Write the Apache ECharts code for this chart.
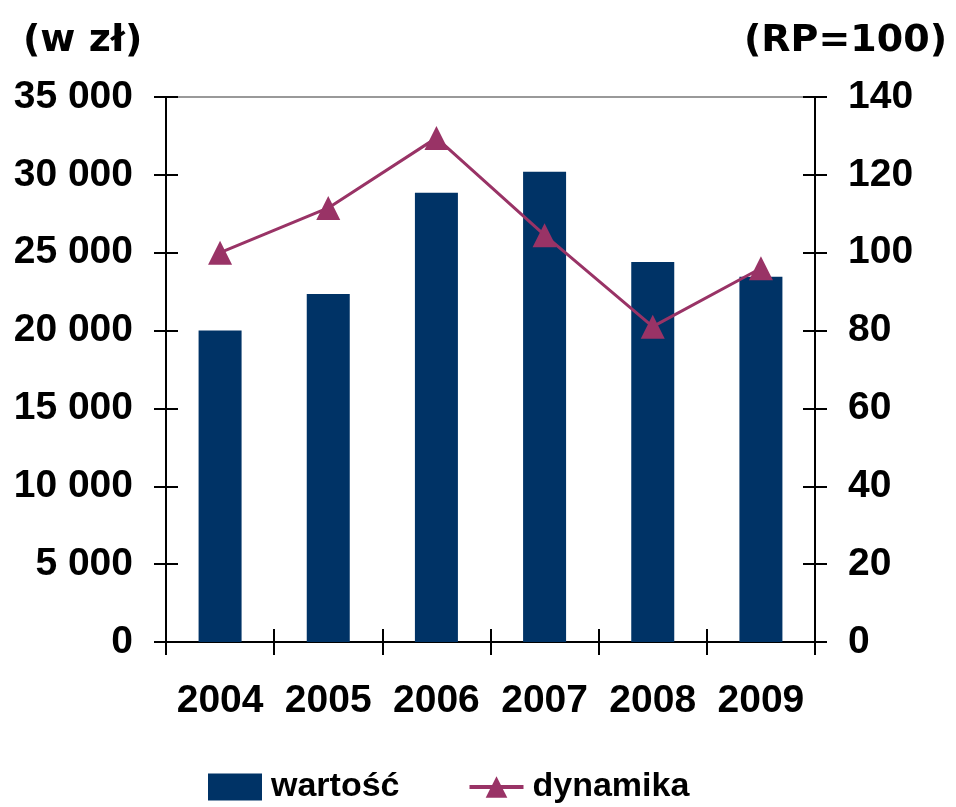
<!DOCTYPE html>
<html>
<head>
<meta charset="utf-8">
<script src="https://cdn.jsdelivr.net/npm/echarts@6/dist/echarts.min.js"></script>
<style>
  html, body { margin: 0; padding: 0; background: #fff; }
  #main { width: 956px; height: 807px; }
</style>
</head>
<body>
<div id="main"></div>
<script>
// dane
var lata = ['2004', '2005', '2006', '2007', '2008', '2009'];
var wartosc = [20000, 22350, 28850, 30200, 24400, 23450];
var dynamika = [100, 111.5, 129.5, 104.5, 81, 96];

var fontLab = 'Liberation Sans, Arial, sans-serif';
var fontTyt = 'DejaVu Sans, Verdana, sans-serif';

var myChart = echarts.init(document.getElementById('main'));

// wspolne ustawienia osi Y (lewa / prawa)
function osY(pos, max, interval, withLabels, inside) {
  return {
    type: 'value',
    position: pos,
    min: 0,
    max: max,
    interval: interval,
    axisLine: { show: true, lineStyle: { color: '#000', width: 2 } },
    axisTick: { show: true, inside: inside, length: 12, lineStyle: { color: '#000', width: 2 } },
    splitLine: { show: false },
    axisLabel: {
      show: withLabels,
      margin: 33,
      color: '#000',
      fontSize: 39,
      fontWeight: 'bold',
      fontFamily: fontLab,
      formatter: function (v) {
        return String(v).replace(/\B(?=(\d{3})+(?!\d))/g, ' ');
      }
    }
  };
}

function osX(withLabels, inside) {
  return {
    type: 'category',
    position: 'bottom',
    data: lata,
    axisLine: { show: true, lineStyle: { color: '#000', width: 2 } },
    axisTick: { show: true, inside: inside, length: 13, interval: 0, alignWithLabel: false, lineStyle: { color: '#000', width: 2 } },
    axisLabel: {
      show: withLabels,
      interval: 0,
      margin: 40,
      color: '#000',
      fontSize: 39,
      fontWeight: 'bold',
      fontFamily: fontLab
    }
  };
}

var option = {
  animation: false,
  title: [
    {
      text: '(w zł)',
      left: 18,
      top: 17,
      textStyle: { fontSize: 38, fontWeight: 'bold', fontFamily: fontTyt, color: '#000' }
    },
    {
      text: '(RP=100)',
      right: 4,
      top: 17,
      textStyle: { fontSize: 38, fontWeight: 'bold', fontFamily: fontTyt, color: '#000' }
    }
  ],
  legend: {
    left: 203,
    bottom: -2,
    itemWidth: 54,
    itemHeight: 27,
    itemGap: 68,
    textStyle: { fontSize: 34, fontWeight: 'bold', fontFamily: fontLab, color: '#000', padding: [0, 0, 0, 4] },
    data: [
      { name: 'wartość', icon: 'rect' },
      { name: 'dynamika', lineStyle: { width: 4 } }
    ]
  },
  grid: {
    left: 166,
    right: 141,
    top: 97,
    bottom: 165,
    show: true,
    borderColor: '#999',
    borderWidth: 2
  },
  xAxis: [osX(true, false), osX(false, true)],
  yAxis: [
    osY('left', 35000, 5000, true, false),
    osY('right', 140, 20, true, false),
    osY('left', 35000, 5000, false, true),
    osY('right', 140, 20, false, true)
  ],
  series: [
    {
      name: 'wartość',
      type: 'bar',
      xAxisIndex: 0,
      yAxisIndex: 0,
      barWidth: 43,
      itemStyle: { color: '#003366' },
      data: wartosc
    },
    {
      name: 'dynamika',
      type: 'line',
      xAxisIndex: 0,
      yAxisIndex: 1,
      symbol: 'triangle',
      symbolSize: 24,
      lineStyle: { color: '#993366', width: 3 },
      itemStyle: { color: '#993366' },
      data: dynamika
    }
  ]
};

myChart.setOption(option);
</script>
</body>
</html>
